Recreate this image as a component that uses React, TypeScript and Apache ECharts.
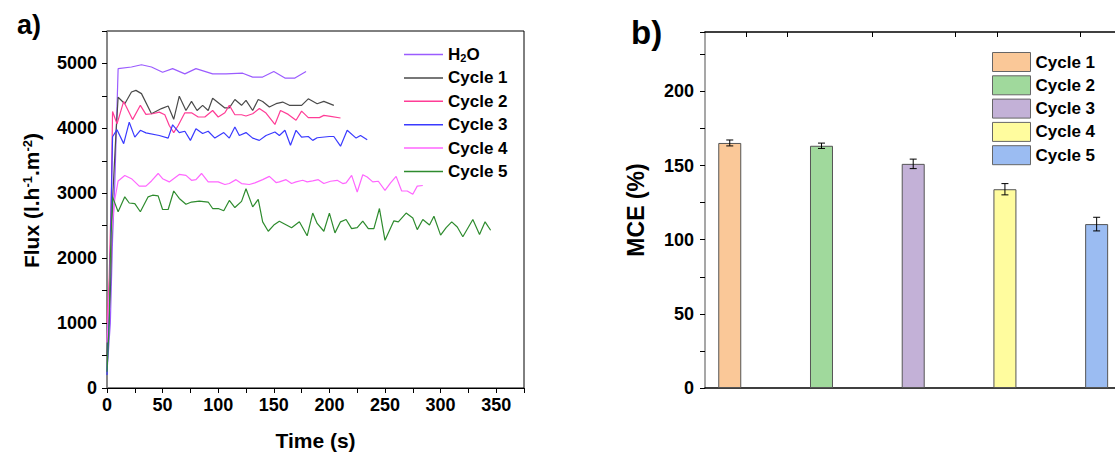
import React, { useEffect, useRef } from "react";
import * as echarts from "echarts";

const FONT = "'Liberation Sans', Arial, Helvetica, sans-serif";

// ---------- Panel a) : flux vs time ----------
const lineNames = ["H2O", "Cycle 1", "Cycle 2", "Cycle 3", "Cycle 4", "Cycle 5"];
const lineColors = ["#9B5CFF", "#4A4A4A", "#FF3C96", "#3A3AFF", "#FF66FF", "#2E8B2E"];

const timeH2O = [0, 3, 5, 7, 10, 22, 31, 40, 50, 59, 70, 80, 95, 107, 122, 131, 140, 150, 160, 169, 179];
const fluxH2O = [250, 1000, 2300, 3150, 4920, 4945, 4980, 4945, 4865, 4920, 4840, 4920, 4840, 4840, 4850, 4790, 4790, 4875, 4775, 4775, 4875];

const timeC1 = [0, 3, 5, 8, 10, 16, 22, 26, 31, 40, 49, 55, 60, 65, 71, 76, 81, 86, 91, 95, 106, 110, 115, 121, 125, 131, 136, 140, 146, 152, 158, 164, 175, 181, 189, 195, 204];
const fluxC1 = [500, 1500, 2900, 3900, 4480, 4380, 4560, 4585, 4535, 4225, 4305, 4345, 4140, 4495, 4275, 4415, 4275, 4355, 4275, 4465, 4315, 4315, 4445, 4355, 4430, 4275, 4445, 4415, 4330, 4380, 4405, 4355, 4355, 4455, 4380, 4415, 4355];

const timeC2 = [0, 2, 4, 5, 9, 15, 23, 30, 35, 41, 47, 52, 56, 60, 64, 70, 76, 82, 88, 95, 100, 106, 110, 115, 121, 125, 131, 137, 143, 151, 156, 163, 170, 175, 181, 191, 195, 201, 210];
const fluxC2 = [1000, 1700, 3100, 4260, 4070, 4415, 4135, 4355, 4215, 4225, 4250, 4210, 4045, 3935, 4045, 4240, 4240, 4175, 4175, 4275, 4175, 4240, 4355, 4210, 4210, 4190, 4225, 4305, 4235, 4060, 4275, 4215, 4125, 4265, 4165, 4165, 4200, 4185, 4160];

const timeC3 = [0, 2, 3, 4, 5, 9, 15, 20, 25, 30, 35, 47, 55, 59, 65, 70, 75, 80, 86, 91, 97, 105, 110, 115, 119, 125, 131, 137, 143, 151, 155, 160, 165, 170, 175, 181, 185, 189, 200, 204, 210, 216, 224, 228, 234];
const fluxC3 = [200, 1200, 2000, 3000, 3870, 3980, 3765, 4095, 3865, 3970, 3930, 3890, 3850, 4055, 3935, 3955, 3815, 3995, 3920, 3955, 3850, 3935, 3850, 4020, 3890, 3935, 3850, 3815, 3890, 3945, 3890, 3970, 3740, 3970, 3865, 3875, 3815, 3855, 3875, 3875, 3725, 3970, 3850, 3890, 3825];

const timeC4 = [0, 2, 4, 7, 10, 16, 22, 29, 35, 40, 46, 50, 56, 65, 71, 76, 80, 85, 91, 100, 106, 110, 116, 121, 128, 133, 140, 146, 152, 155, 161, 166, 170, 176, 180, 185, 190, 195, 201, 207, 212, 215, 220, 225, 230, 234, 239, 244, 250, 255, 260, 265, 270, 275, 279, 284];
const fluxC4 = [700, 1500, 2400, 2900, 3190, 3275, 3225, 3110, 3110, 3190, 3305, 3225, 3175, 3290, 3275, 3200, 3210, 3305, 3175, 3175, 3135, 3150, 3210, 3150, 3135, 3160, 3210, 3260, 3165, 3175, 3210, 3150, 3175, 3200, 3175, 3190, 3210, 3150, 3185, 3200, 3150, 3160, 3275, 3020, 3285, 3250, 3175, 3185, 3045, 3160, 3260, 3035, 3035, 2985, 3110, 3120];

const timeC5 = [0, 2, 3, 5, 10, 16, 20, 25, 30, 37, 41, 46, 50, 55, 60, 65, 71, 76, 83, 91, 95, 100, 105, 110, 115, 121, 125, 131, 136, 140, 145, 150, 155, 166, 173, 180, 185, 189, 195, 200, 205, 210, 215, 220, 225, 230, 235, 240, 245, 250, 258, 262, 269, 275, 279, 284, 290, 294, 300, 305, 310, 315, 320, 329, 335, 340, 345];
const fluxC5 = [250, 1000, 2000, 2945, 2715, 2945, 2850, 2840, 2715, 2945, 2970, 2960, 2750, 2750, 3035, 2920, 2830, 2865, 2880, 2865, 2765, 2765, 2730, 2890, 2780, 2875, 3070, 2790, 2905, 2560, 2415, 2510, 2570, 2470, 2560, 2345, 2695, 2535, 2415, 2695, 2390, 2560, 2595, 2455, 2470, 2570, 2455, 2455, 2765, 2275, 2575, 2560, 2695, 2620, 2440, 2595, 2510, 2645, 2355, 2470, 2560, 2480, 2330, 2595, 2365, 2560, 2430];

const lineTimes = [timeH2O, timeC1, timeC2, timeC3, timeC4, timeC5];
const lineFluxes = [fluxH2O, fluxC1, fluxC2, fluxC3, fluxC4, fluxC5];

// ---------- Panel b) : MCE bars ----------
const mceNames = ["Cycle 1", "Cycle 2", "Cycle 3", "Cycle 4", "Cycle 5"];
const mcePositions = [1, 2, 3, 4, 5];
const mceValues = [165.2, 163.3, 151.1, 134.0, 110.5];
const mceErrors = [2.0, 1.8, 3.2, 3.8, 4.6];
const barColors = ["#FAC898", "#A0D99C", "#C3B1D7", "#FFFC9E", "#9BBCF2"];

const bold = (size: number) => ({ fontSize: size, fontWeight: "bold" as const, fontFamily: FONT, color: "#000" });

export default function App() {
  const ref = useRef<HTMLDivElement>(null);

  useEffect(() => {
    if (!ref.current) return;
    const chart = echarts.init(ref.current, null, { renderer: "svg" });

    const lineSeries = lineNames.map((name, i) => ({
      type: "line",
      name,
      xAxisIndex: 0,
      yAxisIndex: 0,
      data: lineTimes[i].map((t, k) => [t, lineFluxes[i][k]]),
      showSymbol: false,
      symbol: "none",
      lineStyle: { color: lineColors[i], width: 1.2 },
      itemStyle: { color: lineColors[i] },
      z: 3,
    }));

    const barSeries = mceNames.map((name, i) => ({
      type: "bar",
      name: "MCE " + name,
      xAxisIndex: 1,
      yAxisIndex: 1,
      data: [[mcePositions[i], mceValues[i]]],
      barWidth: 23,
      barGap: "-100%",
      itemStyle: { color: barColors[i], borderColor: "#555", borderWidth: 1 },
    }));

    const errorSeries = {
      type: "custom",
      name: "err",
      xAxisIndex: 1,
      yAxisIndex: 1,
      z: 10,
      data: mcePositions.map((p, i) => [p, mceValues[i], mceErrors[i]]),
      renderItem: (params: any, api: any) => {
        const x = api.value(0);
        const y = api.value(1);
        const e = api.value(2);
        const top = api.coord([x, y + e]);
        const bot = api.coord([x, y - e]);
        const w = 3.5;
        const st = { stroke: "#000", lineWidth: 1 };
        return {
          type: "group",
          children: [
            { type: "line", shape: { x1: top[0], y1: top[1], x2: bot[0], y2: bot[1] }, style: st },
            { type: "line", shape: { x1: top[0] - w, y1: top[1], x2: top[0] + w, y2: top[1] }, style: st },
            { type: "line", shape: { x1: bot[0] - w, y1: bot[1], x2: bot[0] + w, y2: bot[1] }, style: st },
          ],
        };
      },
    };

    const option: any = {
      animation: false,
      backgroundColor: "#fff",
      textStyle: { fontFamily: FONT },
      grid: [
        { left: 107, top: 31, width: 417, height: 357, show: true, borderColor: "#000", borderWidth: 1 },
        { left: 705, top: 32, width: 410, height: 356 },
      ],
      xAxis: [
        {
          type: "value",
          gridIndex: 0,
          min: 0,
          max: 375,
          interval: 25,
          splitLine: { show: false },
          axisLine: { onZero: false, lineStyle: { color: "#000", width: 1 } },
          axisTick: { inside: false, length: 5, lineStyle: { color: "#000", width: 1 } },
          axisLabel: {
            ...bold(18),
            margin: 8,
            formatter: (v: number) => (v % 50 === 0 && v <= 350 ? String(v) : ""),
          },
          name: "Time (s)",
          nameLocation: "middle",
          nameGap: 42,
          nameTextStyle: bold(21),
        },
        {
          type: "value",
          gridIndex: 1,
          min: 0.73,
          max: 5.2,
          splitLine: { show: false },
          axisLine: { onZero: false, lineStyle: { color: "#000", width: 1.5 } },
          axisTick: { show: false },
          axisLabel: { show: false },
        },
        {
          type: "value",
          gridIndex: 1,
          position: "top",
          min: 0.73,
          max: 5.2,
          splitLine: { show: false },
          axisLine: { onZero: false, lineStyle: { color: "#000", width: 1.5 } },
          axisTick: {
            show: true,
            inside: true,
            length: 5,
            customValues: [1.185, 1.632, 2.548, 3.453, 3.911, 4.816],
            lineStyle: { color: "#000", width: 1 },
          },
          axisLabel: { show: false },
        },
      ],
      yAxis: [
        {
          type: "value",
          gridIndex: 0,
          min: 0,
          max: 5500,
          interval: 500,
          splitLine: { show: false },
          axisLine: { onZero: false, lineStyle: { color: "#8a8a8a", width: 1.5 } },
          axisTick: { length: 5, lineStyle: { color: "#000", width: 1 } },
          axisLabel: {
            ...bold(18),
            margin: 10,
            formatter: (v: number) => (v % 1000 === 0 ? String(v) : ""),
          },
          name: "{a|Flux (l.h}{s|-1}{a|.m}{s|-2}{a|)}",
          nameLocation: "middle",
          nameGap: 65,
          nameTextStyle: {
            padding: [0, 0, 0, 18],
            rich: {
              a: bold(21),
              s: { ...bold(13), verticalAlign: "top" },
            },
          },
        },
        {
          type: "value",
          gridIndex: 1,
          min: 0,
          max: 240,
          interval: 25,
          splitLine: { show: false },
          axisLine: { onZero: false, lineStyle: { color: "#8a8a8a", width: 1.5 } },
          axisTick: { length: 5, lineStyle: { color: "#000", width: 1 } },
          axisLabel: {
            ...bold(18),
            margin: 11,
            formatter: (v: number) => (v % 50 === 0 ? String(v) : ""),
          },
          name: "MCE (%)",
          nameLocation: "middle",
          nameGap: 58,
          nameTextStyle: bold(23),
        },
      ],
      legend: [
        {
          data: lineNames,
          orient: "vertical",
          left: 399,
          top: 41,
          itemWidth: 39,
          itemHeight: 17,
          itemGap: 6.4,
          icon: "path://M0,0H40V1.5H0Z",
          selectedMode: false,
          formatter: (n: string) => (n === "H2O" ? "{m|H}{s|2}{m|O}" : n),
          textStyle: {
            ...bold(17),
            rich: {
              m: bold(17),
              s: { ...bold(11), verticalAlign: "bottom" },
            },
          },
        },
        {
          data: mceNames.map((n) => "MCE " + n),
          orient: "vertical",
          left: 987,
          top: 47,
          itemWidth: 38,
          itemHeight: 19,
          itemGap: 3.3,
          icon: "rect",
          selectedMode: false,
          itemStyle: { borderColor: "#666", borderWidth: 1 },
          formatter: (n: string) => n.replace("MCE ", ""),
          textStyle: bold(17),
        },
      ],
      graphic: [
        { type: "text", left: 17, top: 11, style: { text: "a)", fill: "#000", font: `bold 27px ${FONT}` } },
        { type: "text", left: 631, top: 16, style: { text: "b)", fill: "#000", font: `bold 33px ${FONT}` } },
      ],
      series: [...lineSeries, ...barSeries, errorSeries],
    };

    chart.setOption(option);
    return () => chart.dispose();
  }, []);

  return <div ref={ref} style={{ position: "fixed", left: 0, top: 0, width: 1115, height: 459 }} />;
}
